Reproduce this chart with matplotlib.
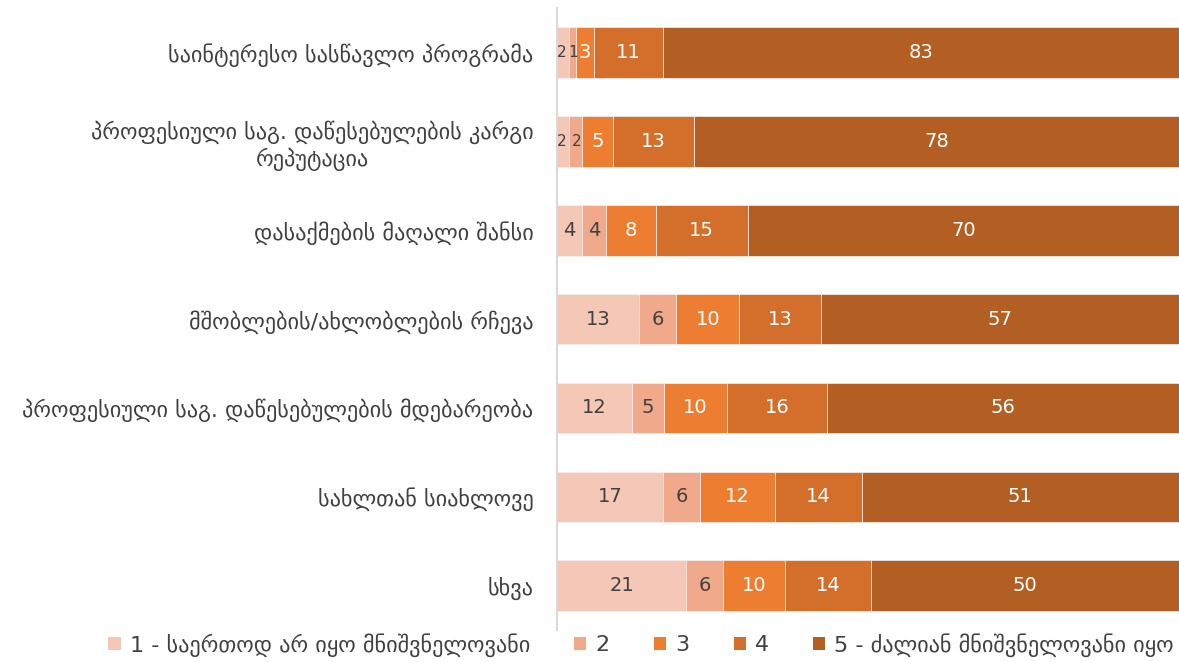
import matplotlib
matplotlib.use('Agg')
import matplotlib.pyplot as plt
from matplotlib.patches import Patch

# data
categories = [
    'საინტერესო სასწავლო პროგრამა',
    'პროფესიული საგ. დაწესებულების კარგი\nრეპუტაცია',
    'დასაქმების მაღალი შანსი',
    'მშობლების/ახლობლების რჩევა',
    'პროფესიული საგ. დაწესებულების მდებარეობა',
    'სახლთან სიახლოვე',
    'სხვა',
]
v1 = [2, 2, 4, 13, 12, 17, 21]
v2 = [1, 2, 4, 6, 5, 6, 6]
v3 = [3, 5, 8, 10, 10, 12, 10]
v4 = [11, 13, 15, 13, 16, 14, 14]
v5 = [83, 78, 70, 57, 56, 51, 50]
series_names = ['1 - საერთოდ არ იყო მნიშვნელოვანი', '2', '3', '4',
                '5 - ძალიან მნიშვნელოვანი იყო']

COLORS = ['#F4C7B7', '#F1A98B', '#ED7D31', '#D36F2B', '#B35E22']
TEXT_COLORS = ['#404040', '#404040', 'white', 'white', 'white']
# nudge (points) for labels on very thin segments, per series
THIN_NUDGE = [-1.0, 0.8, 0, 0, 0]

plt.rcParams['font.family'] = ['DejaVu Sans']

fig = plt.figure(figsize=(11.79, 6.62), dpi=100)
ax = fig.add_axes([0.4724, 0.048, 0.5276, 0.94])

series = [v1, v2, v3, v4, v5]
# 100% stacked: each row scaled to its total
totals = [sum(col) for col in zip(*series)]
ypos = list(range(len(categories)))
left = [0.0] * len(categories)
for vals, col, tcol, dx in zip(series, COLORS, TEXT_COLORS, THIN_NUDGE):
    widths = [v / t * 100 for v, t in zip(vals, totals)]
    bars = ax.barh(ypos, widths, left=left, height=0.57, color=col,
                   edgecolor='#F2F2F2', linewidth=0.5)
    for b, v in zip(bars, vals):
        xc = b.get_x() + b.get_width() / 2
        yc = b.get_y() + b.get_height() / 2
        if b.get_width() < 2.5:
            ax.annotate(str(v), (xc, yc), xytext=(dx, 0),
                        textcoords='offset points', ha='center', va='center',
                        fontsize=11, color=tcol)
        else:
            ax.text(xc, yc, str(v), ha='center', va='center',
                    fontsize=14, color=tcol)
    left = [l + w for l, w in zip(left, widths)]

ax.set_xlim(0, 100)
ax.set_ylim(len(categories) - 0.5, -0.5)
ax.set_yticks(ypos)
ax.set_yticklabels(categories, fontsize=16, color='#404040',
                   multialignment='center')
ax.tick_params(axis='y', length=0, pad=17)
ax.set_xticks([])
for s in ['top', 'right', 'bottom']:
    ax.spines[s].set_visible(False)
ax.spines['left'].set_color('#D9D9D9')
ax.spines['left'].set_linewidth(1.5)

handles = [Patch(facecolor=c, edgecolor='none') for c in COLORS]
fig.legend(handles, series_names, loc='lower left', ncol=5,
           bbox_to_anchor=(0.075, -0.022), frameon=False, fontsize=16,
           handlelength=0.55, handleheight=0.55, handletextpad=0.4,
           columnspacing=2.0, labelcolor='#404040')

fig.savefig('out.png', dpi=100, facecolor='white')
